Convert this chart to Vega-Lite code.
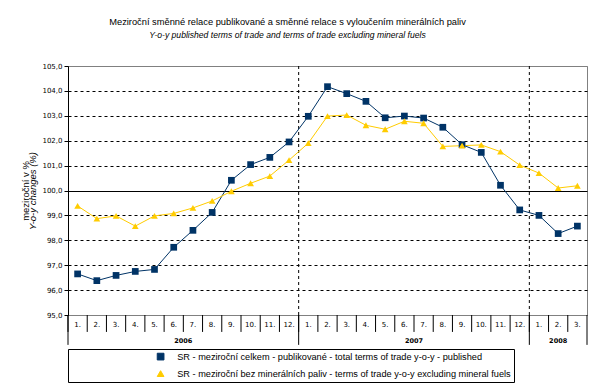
{
  "$schema": "https://vega.github.io/schema/vega-lite/v6.json",
  "autosize": {"type": "none"},
  "width": 519,
  "height": 249,
  "padding": {"left": 68, "top": 66, "right": 15, "bottom": 75},
  "background": "white",
  "title": {
    "text": "Meziroční směnné relace publikované a směnné relace s vyloučením minerálních paliv",
    "subtitle": "Y-o-y published terms of trade and terms of trade excluding mineral fuels",
    "font": "Liberation Sans", "fontSize": 9.3, "fontWeight": "normal", "color": "black",
    "subtitleFont": "Liberation Sans", "subtitleFontSize": 8.6, "subtitleFontStyle": "italic", "subtitleColor": "black",
    "anchor": "middle", "dx": -40, "offset": 22, "subtitlePadding": 4
  },
  "config": {"view": {"stroke": "#808080", "strokeWidth": 1}},
  "datasets": {
    "series": [
      {"period": "2006-01", "series": "SR - meziroční celkem - publikované - total terms of trade y-o-y - published", "value": 96.65},
      {"period": "2006-02", "series": "SR - meziroční celkem - publikované - total terms of trade y-o-y - published", "value": 96.38},
      {"period": "2006-03", "series": "SR - meziroční celkem - publikované - total terms of trade y-o-y - published", "value": 96.59},
      {"period": "2006-04", "series": "SR - meziroční celkem - publikované - total terms of trade y-o-y - published", "value": 96.75},
      {"period": "2006-05", "series": "SR - meziroční celkem - publikované - total terms of trade y-o-y - published", "value": 96.83},
      {"period": "2006-06", "series": "SR - meziroční celkem - publikované - total terms of trade y-o-y - published", "value": 97.72},
      {"period": "2006-07", "series": "SR - meziroční celkem - publikované - total terms of trade y-o-y - published", "value": 98.40},
      {"period": "2006-08", "series": "SR - meziroční celkem - publikované - total terms of trade y-o-y - published", "value": 99.12},
      {"period": "2006-09", "series": "SR - meziroční celkem - publikované - total terms of trade y-o-y - published", "value": 100.41},
      {"period": "2006-10", "series": "SR - meziroční celkem - publikované - total terms of trade y-o-y - published", "value": 101.04},
      {"period": "2006-11", "series": "SR - meziroční celkem - publikované - total terms of trade y-o-y - published", "value": 101.33},
      {"period": "2006-12", "series": "SR - meziroční celkem - publikované - total terms of trade y-o-y - published", "value": 101.95},
      {"period": "2007-01", "series": "SR - meziroční celkem - publikované - total terms of trade y-o-y - published", "value": 102.98},
      {"period": "2007-02", "series": "SR - meziroční celkem - publikované - total terms of trade y-o-y - published", "value": 104.17},
      {"period": "2007-03", "series": "SR - meziroční celkem - publikované - total terms of trade y-o-y - published", "value": 103.89},
      {"period": "2007-04", "series": "SR - meziroční celkem - publikované - total terms of trade y-o-y - published", "value": 103.58},
      {"period": "2007-05", "series": "SR - meziroční celkem - publikované - total terms of trade y-o-y - published", "value": 102.92},
      {"period": "2007-06", "series": "SR - meziroční celkem - publikované - total terms of trade y-o-y - published", "value": 102.99},
      {"period": "2007-07", "series": "SR - meziroční celkem - publikované - total terms of trade y-o-y - published", "value": 102.91},
      {"period": "2007-08", "series": "SR - meziroční celkem - publikované - total terms of trade y-o-y - published", "value": 102.54},
      {"period": "2007-09", "series": "SR - meziroční celkem - publikované - total terms of trade y-o-y - published", "value": 101.84},
      {"period": "2007-10", "series": "SR - meziroční celkem - publikované - total terms of trade y-o-y - published", "value": 101.53},
      {"period": "2007-11", "series": "SR - meziroční celkem - publikované - total terms of trade y-o-y - published", "value": 100.21},
      {"period": "2007-12", "series": "SR - meziroční celkem - publikované - total terms of trade y-o-y - published", "value": 99.22},
      {"period": "2008-01", "series": "SR - meziroční celkem - publikované - total terms of trade y-o-y - published", "value": 99.00},
      {"period": "2008-02", "series": "SR - meziroční celkem - publikované - total terms of trade y-o-y - published", "value": 98.27},
      {"period": "2008-03", "series": "SR - meziroční celkem - publikované - total terms of trade y-o-y - published", "value": 98.57},
      {"period": "2006-01", "series": "SR - meziroční bez minerálních paliv - terms of trade y-o-y excluding mineral fuels", "value": 99.38},
      {"period": "2006-02", "series": "SR - meziroční bez minerálních paliv - terms of trade y-o-y excluding mineral fuels", "value": 98.87},
      {"period": "2006-03", "series": "SR - meziroční bez minerálních paliv - terms of trade y-o-y excluding mineral fuels", "value": 98.98},
      {"period": "2006-04", "series": "SR - meziroční bez minerálních paliv - terms of trade y-o-y excluding mineral fuels", "value": 98.57},
      {"period": "2006-05", "series": "SR - meziroční bez minerálních paliv - terms of trade y-o-y excluding mineral fuels", "value": 98.98},
      {"period": "2006-06", "series": "SR - meziroční bez minerálních paliv - terms of trade y-o-y excluding mineral fuels", "value": 99.08},
      {"period": "2006-07", "series": "SR - meziroční bez minerálních paliv - terms of trade y-o-y excluding mineral fuels", "value": 99.30},
      {"period": "2006-08", "series": "SR - meziroční bez minerálních paliv - terms of trade y-o-y excluding mineral fuels", "value": 99.58},
      {"period": "2006-09", "series": "SR - meziroční bez minerálních paliv - terms of trade y-o-y excluding mineral fuels", "value": 99.97},
      {"period": "2006-10", "series": "SR - meziroční bez minerálních paliv - terms of trade y-o-y excluding mineral fuels", "value": 100.29},
      {"period": "2006-11", "series": "SR - meziroční bez minerálních paliv - terms of trade y-o-y excluding mineral fuels", "value": 100.58},
      {"period": "2006-12", "series": "SR - meziroční bez minerálních paliv - terms of trade y-o-y excluding mineral fuels", "value": 101.22},
      {"period": "2007-01", "series": "SR - meziroční bez minerálních paliv - terms of trade y-o-y excluding mineral fuels", "value": 101.90},
      {"period": "2007-02", "series": "SR - meziroční bez minerálních paliv - terms of trade y-o-y excluding mineral fuels", "value": 102.99},
      {"period": "2007-03", "series": "SR - meziroční bez minerálních paliv - terms of trade y-o-y excluding mineral fuels", "value": 103.03},
      {"period": "2007-04", "series": "SR - meziroční bez minerálních paliv - terms of trade y-o-y excluding mineral fuels", "value": 102.62},
      {"period": "2007-05", "series": "SR - meziroční bez minerálních paliv - terms of trade y-o-y excluding mineral fuels", "value": 102.46},
      {"period": "2007-06", "series": "SR - meziroční bez minerálních paliv - terms of trade y-o-y excluding mineral fuels", "value": 102.78},
      {"period": "2007-07", "series": "SR - meziroční bez minerálních paliv - terms of trade y-o-y excluding mineral fuels", "value": 102.70},
      {"period": "2007-08", "series": "SR - meziroční bez minerálních paliv - terms of trade y-o-y excluding mineral fuels", "value": 101.77},
      {"period": "2007-09", "series": "SR - meziroční bez minerálních paliv - terms of trade y-o-y excluding mineral fuels", "value": 101.80},
      {"period": "2007-10", "series": "SR - meziroční bez minerálních paliv - terms of trade y-o-y excluding mineral fuels", "value": 101.83},
      {"period": "2007-11", "series": "SR - meziroční bez minerálních paliv - terms of trade y-o-y excluding mineral fuels", "value": 101.56},
      {"period": "2007-12", "series": "SR - meziroční bez minerálních paliv - terms of trade y-o-y excluding mineral fuels", "value": 101.02},
      {"period": "2008-01", "series": "SR - meziroční bez minerálních paliv - terms of trade y-o-y excluding mineral fuels", "value": 100.70},
      {"period": "2008-02", "series": "SR - meziroční bez minerálních paliv - terms of trade y-o-y excluding mineral fuels", "value": 100.10},
      {"period": "2008-03", "series": "SR - meziroční bez minerálních paliv - terms of trade y-o-y excluding mineral fuels", "value": 100.19}
    ],
    "months": [
      {"period": "2006-01", "label": "1."}, {"period": "2006-02", "label": "2."}, {"period": "2006-03", "label": "3."},
      {"period": "2006-04", "label": "4."}, {"period": "2006-05", "label": "5."}, {"period": "2006-06", "label": "6."},
      {"period": "2006-07", "label": "7."}, {"period": "2006-08", "label": "8."}, {"period": "2006-09", "label": "9."},
      {"period": "2006-10", "label": "10."}, {"period": "2006-11", "label": "11."}, {"period": "2006-12", "label": "12."},
      {"period": "2007-01", "label": "1."}, {"period": "2007-02", "label": "2."}, {"period": "2007-03", "label": "3."},
      {"period": "2007-04", "label": "4."}, {"period": "2007-05", "label": "5."}, {"period": "2007-06", "label": "6."},
      {"period": "2007-07", "label": "7."}, {"period": "2007-08", "label": "8."}, {"period": "2007-09", "label": "9."},
      {"period": "2007-10", "label": "10."}, {"period": "2007-11", "label": "11."}, {"period": "2007-12", "label": "12."},
      {"period": "2008-01", "label": "1."}, {"period": "2008-02", "label": "2."}, {"period": "2008-03", "label": "3."}
    ],
    "yearlines": [{"period": "2007-01"}, {"period": "2008-01"}],
    "edges": [{"period": "2006-01"}, {"period": "2007-01"}, {"period": "2008-01"}],
    "lastedge": [{"period": "2008-03"}],
    "years": [{"period": "2006-07", "year": "2006"}, {"period": "2007-07", "year": "2007"}],
    "year3": [{"period": "2008-02", "year": "2008"}]
  },
  "resolve": {"axis": {"y": "independent"}},
  "layer": [
    {
      "data": {"name": "yearlines"},
      "mark": {"type": "rule", "color": "black", "strokeWidth": 1, "strokeDash": [3, 3]},
      "encoding": {
        "x": {"field": "period", "type": "ordinal", "bandPosition": 0, "scale": {"type": "band", "paddingInner": 0, "paddingOuter": 0}, "axis": null},
        "y": {"datum": 95, "type": "quantitative", "axis": null},
        "y2": {"datum": 105}
      }
    },
    {
      "data": {"name": "months"},
      "mark": {"type": "rule", "color": "black", "strokeWidth": 1},
      "encoding": {
        "x": {"field": "period", "type": "ordinal", "bandPosition": 0, "scale": {"type": "band", "paddingInner": 0, "paddingOuter": 0}, "axis": null},
        "y": {"datum": 94.32, "type": "quantitative", "axis": null},
        "y2": {"datum": 95}
      }
    },
    {
      "data": {"name": "months"},
      "mark": {"type": "text", "font": "DejaVu Sans", "fontSize": 7, "baseline": "middle", "color": "black"},
      "encoding": {
        "x": {"field": "period", "type": "ordinal", "scale": {"type": "band", "paddingInner": 0, "paddingOuter": 0}, "axis": null},
        "y": {"datum": 94.6, "type": "quantitative", "axis": null},
        "text": {"field": "label"}
      }
    },
    {
      "data": {"name": "edges"},
      "mark": {"type": "rule", "color": "black", "strokeWidth": 1},
      "encoding": {
        "x": {"field": "period", "type": "ordinal", "bandPosition": 0, "scale": {"type": "band", "paddingInner": 0, "paddingOuter": 0}, "axis": null},
        "y": {"datum": 93.8, "type": "quantitative", "axis": null},
        "y2": {"datum": 95}
      }
    },
    {
      "data": {"name": "lastedge"},
      "mark": {"type": "rule", "color": "black", "strokeWidth": 1},
      "encoding": {
        "x": {"field": "period", "type": "ordinal", "bandPosition": 1, "scale": {"type": "band", "paddingInner": 0, "paddingOuter": 0}, "axis": null},
        "y": {"datum": 93.8, "type": "quantitative", "axis": null},
        "y2": {"datum": 95}
      }
    },
    {
      "data": {"name": "years"},
      "mark": {"type": "text", "font": "DejaVu Sans", "fontSize": 6.5, "fontWeight": "bold", "baseline": "middle", "color": "black"},
      "encoding": {
        "x": {"field": "period", "type": "ordinal", "bandPosition": 0, "scale": {"type": "band", "paddingInner": 0, "paddingOuter": 0}, "axis": null},
        "y": {"datum": 93.94, "type": "quantitative", "axis": null},
        "text": {"field": "year"}
      }
    },
    {
      "data": {"name": "year3"},
      "mark": {"type": "text", "font": "DejaVu Sans", "fontSize": 6.5, "fontWeight": "bold", "baseline": "middle", "color": "black"},
      "encoding": {
        "x": {"field": "period", "type": "ordinal", "bandPosition": 0.5, "scale": {"type": "band", "paddingInner": 0, "paddingOuter": 0}, "axis": null},
        "y": {"datum": 93.94, "type": "quantitative", "axis": null},
        "text": {"field": "year"}
      }
    },
    {
      "data": {"name": "series"},
      "mark": {"type": "line", "strokeWidth": 1},
      "encoding": {
        "x": {"field": "period", "type": "ordinal", "scale": {"type": "band", "paddingInner": 0, "paddingOuter": 0}, "axis": null},
        "y": {
          "field": "value", "type": "quantitative",
          "scale": {"domain": [95, 105], "nice": false, "zero": false},
          "axis": {
            "orient": "left",
            "values": [95, 96, 97, 98, 99, 100, 101, 102, 103, 104, 105],
            "labelExpr": "replace(format(datum.value, '.1f'), '.', ',')",
            "labelFont": "DejaVu Sans", "labelFontSize": 7, "labelColor": "black",
            "tickColor": "black", "tickSize": 4, "domainColor": "black",
            "grid": true, "gridOpacity": 1,
            "gridColor": {"condition": {"test": "datum.value === 95 || datum.value === 105", "value": "#808080"}, "value": "black"},
            "gridDash": {"condition": {"test": "datum.value === 95 || datum.value === 100 || datum.value === 105", "value": []}, "value": [3, 3]},
            "title": "Y-o-y changes (%)", "titleFont": "Liberation Sans", "titleFontSize": 9.5,
            "titleFontStyle": "italic", "titleFontWeight": "normal", "titleColor": "black", "titlePadding": 4
          }
        },
        "color": {
          "field": "series", "type": "nominal",
          "scale": {
            "domain": ["SR - meziroční celkem - publikované - total terms of trade y-o-y - published", "SR - meziroční bez minerálních paliv - terms of trade y-o-y excluding mineral fuels"],
            "range": ["#003366", "#FFCC00"]
          },
          "legend": {
            "orient": "none", "legendX": 0, "legendY": 283, "title": null,
            "strokeColor": "black", "padding": 3, "rowPadding": 6,
            "labelFont": "Liberation Sans", "labelFontSize": 9.2, "labelColor": "black", "labelLimit": 1000,
            "symbolSize": 45, "symbolStrokeWidth": 1,
            "symbolOffset": 85, "labelOffset": 12
          }
        }
      }
    },
    {
      "data": {"name": "series"},
      "mark": {"type": "point", "filled": true, "size": 45, "opacity": 1},
      "encoding": {
        "x": {"field": "period", "type": "ordinal", "scale": {"type": "band", "paddingInner": 0, "paddingOuter": 0}, "axis": null},
        "y": {
          "field": "value", "type": "quantitative",
          "axis": {
            "orient": "left", "labels": false, "ticks": false, "domain": false, "grid": false,
            "title": "meziroční v %", "titleFont": "Liberation Sans", "titleFontSize": 9.5,
            "titleFontWeight": "normal", "titleColor": "black", "titlePadding": 38
          }
        },
        "color": {"field": "series", "type": "nominal", "legend": null},
        "shape": {
          "field": "series", "type": "nominal", "legend": null,
          "scale": {
            "domain": ["SR - meziroční celkem - publikované - total terms of trade y-o-y - published", "SR - meziroční bez minerálních paliv - terms of trade y-o-y excluding mineral fuels"],
            "range": ["square", "triangle-up"]
          }
        }
      }
    }
  ]
}
